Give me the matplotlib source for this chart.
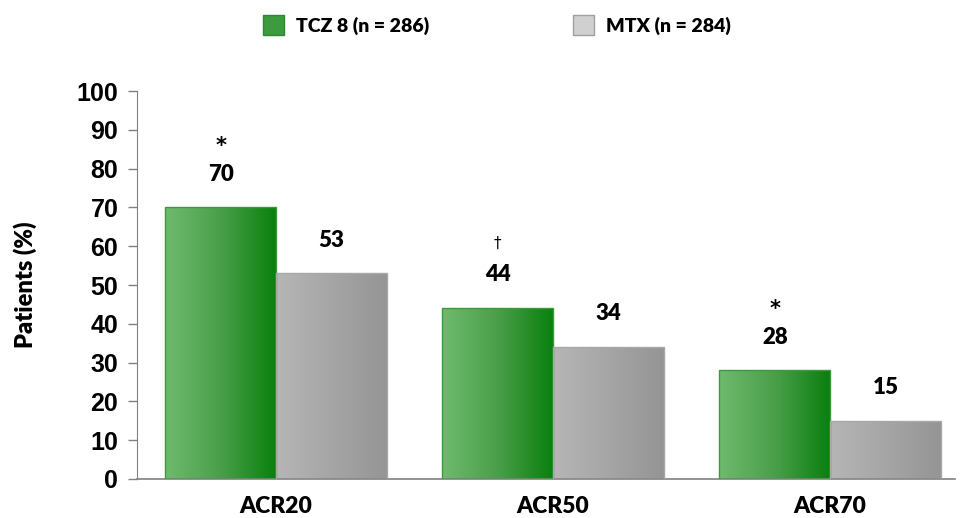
import numpy as np
import matplotlib
matplotlib.use("Agg")
import matplotlib.pyplot as plt
from matplotlib.colors import LinearSegmentedColormap
from matplotlib.patches import Rectangle, Patch

categories = ["ACR20", "ACR50", "ACR70"]
tcz_values = [70, 44, 28]
mtx_values = [53, 34, 15]
tcz_marks = ["*", "\u2020", "*"]
series_names = ["TCZ 8 (n = 286)", "MTX (n = 284)"]
y_ticks = [0, 10, 20, 30, 40, 50, 60, 70, 80, 90, 100]

green_cmap = LinearSegmentedColormap.from_list("g", ["#6fba6f", "#4a9f4a", "#0a800e"])
grey_cmap = LinearSegmentedColormap.from_list("k", ["#b6b6b6", "#959595"])

LABEL_FONT = "Lato"

fig = plt.figure(figsize=(9.61, 5.18), dpi=100)
ax = fig.add_axes([0.1426, 0.0753, 0.851, 0.749])

x = np.arange(len(categories))
w = 0.4
grad = np.linspace(0, 1, 256).reshape(1, -1)

bars_t = ax.bar(x - w / 2, tcz_values, w, color="none", edgecolor="#3c9a3c", linewidth=1.0, zorder=3)
bars_m = ax.bar(x + w / 2, mtx_values, w, color="none", edgecolor="#a8a8a8", linewidth=1.0, zorder=3)

for bars, cmap in ((bars_t, green_cmap), (bars_m, grey_cmap)):
    for b in bars:
        x0, y0 = b.get_x(), b.get_y()
        bw, bh = b.get_width(), b.get_height()
        im = ax.imshow(grad, cmap=cmap, aspect="auto", extent=[x0, x0 + bw, y0, y0 + bh],
                       interpolation="bicubic", zorder=2)
        im.set_clip_path(Rectangle((x0, y0), bw, bh, transform=ax.transData))

for b, v, mk in zip(bars_t, tcz_values, tcz_marks):
    cx = b.get_x() + b.get_width() / 2
    ax.annotate(str(v), (cx, v), xytext=(0, 24), textcoords="offset points",
                ha="center", va="center", fontsize=16, fontweight="heavy", family=LABEL_FONT)
    ax.annotate(mk, (cx, v), xytext=(0, 44 if mk == "*" else 47), textcoords="offset points",
                ha="center", va="center", fontsize=15 if mk == "*" else 11,
                fontweight="bold" if mk == "*" else "normal", family="DejaVu Sans")
for b, v in zip(bars_m, mtx_values):
    cx = b.get_x() + b.get_width() / 2
    ax.annotate(str(v), (cx, v), xytext=(0, 24), textcoords="offset points",
                ha="center", va="center", fontsize=16, fontweight="heavy", family=LABEL_FONT)

ax.set_xlim(-0.502, 2.45)
ax.set_ylim(0, 100)
ax.set_yticks(y_ticks)
ax.set_yticklabels([str(t) for t in y_ticks], fontsize=18, fontweight="bold", family="Liberation Sans")
ax.set_xticks(x)
ax.set_xticklabels(categories, fontsize=16.5, fontweight="heavy", family=LABEL_FONT)
ax.tick_params(axis="x", length=0, pad=12)
ax.tick_params(axis="y", length=6.5, width=1, color="#808080", direction="out", pad=7)
for s in ("top", "right"):
    ax.spines[s].set_visible(False)
ax.spines["left"].set_color("#808080")
ax.spines["bottom"].set_color("#808080")
ax.spines["bottom"].set_linewidth(1.2)
ax.set_ylabel("Patients (%)", fontsize=17, fontweight="heavy", family=LABEL_FONT)
ax.yaxis.set_label_coords(-0.122, 0.5)

handles = [Patch(facecolor="#3e9a3e", edgecolor="#2a8a2a"),
           Patch(facecolor="#d0d0d0", edgecolor="#a0a0a0")]
leg = fig.legend(handles, series_names, loc="upper center", bbox_to_anchor=(0.517, 1.005), ncol=2,
                 frameon=False, prop={"family": LABEL_FONT, "weight": "heavy", "size": 14},
                 handlelength=1.1, handleheight=1.2, handletextpad=0.6, columnspacing=7.4)

fig.savefig("out.png", dpi=100)
